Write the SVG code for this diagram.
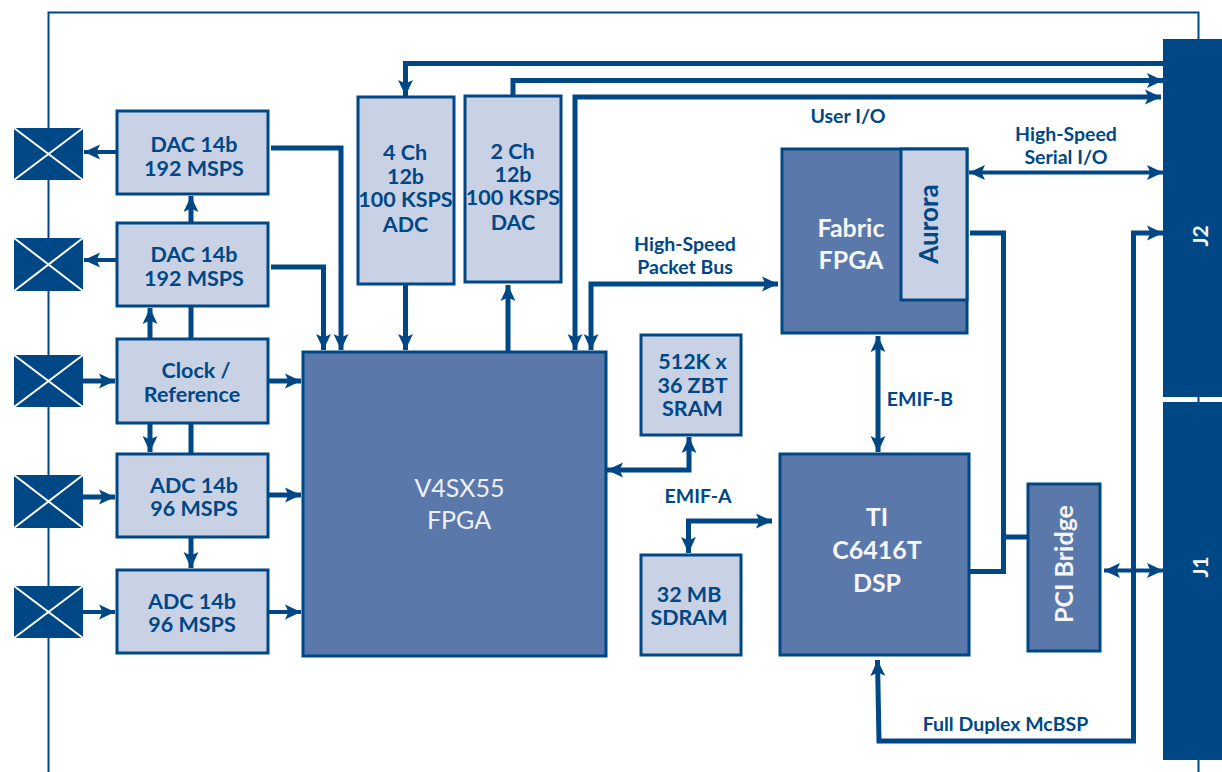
<svg xmlns="http://www.w3.org/2000/svg" width="1222" height="772" viewBox="0 0 1222 772">
<style>
text{font-family:Lato,"Open Sans","Liberation Sans",sans-serif;text-anchor:middle}
.lb{font-weight:700;font-size:21.5px;fill:#004785}
.sm{font-weight:700;font-size:19.5px;fill:#004785}
.wt{font-weight:700;font-size:25px;fill:#f4f6fa}
.wr{font-weight:400;font-size:25px;fill:#eef1f7}
.j{font-weight:700;font-size:21px;fill:#f4f6fa}
.light{fill:#c9d1e5;stroke:#004785;stroke-width:3}
.mid{fill:#5b78aa;stroke:#004785;stroke-width:3}
.cn{fill:#004785}
.x{stroke:#fff;stroke-width:2;fill:none}
.jb{fill:#004785}
.c{fill:none;stroke:#004785;stroke-width:5}
.c4{fill:none;stroke:#004785;stroke-width:4}
.f{fill:none;stroke:#004785;stroke-width:2}
</style>
<defs>
<marker id="a" markerUnits="userSpaceOnUse" markerWidth="16" markerHeight="16" refX="14" refY="7" orient="auto-start-reverse" viewBox="0 0 14 14"><path d="M14 7L0 0.5L3 7L0 13.5Z" fill="#004785"/></marker>
</defs>
<g id="frame"><path class="f" d="M48.5 772V12.5H1198.5V39M1198.5 397V402M1198.5 760V772"/></g>
<g id="connectors">
<path class="c4" marker-end="url(#a)" d="M116 152H84"/>
<path class="c4" marker-end="url(#a)" d="M116 260H84"/>
<path class="c" marker-end="url(#a)" d="M191 222V196"/>
<path class="c" marker-end="url(#a)" d="M150 338V308"/>
<path class="c" d="M191 338V307"/>
<path class="c" marker-end="url(#a)" d="M83 381H115"/>
<path class="c" marker-end="url(#a)" d="M269 381H301"/>
<path class="c" marker-end="url(#a)" d="M150 424V452"/>
<path class="c" d="M191 424V453"/>
<path class="c" marker-end="url(#a)" d="M83 497H115"/>
<path class="c" marker-end="url(#a)" d="M269 495H301"/>
<path class="c" marker-end="url(#a)" d="M191 538V568"/>
<path class="c4" marker-end="url(#a)" d="M83 612H115"/>
<path class="c4" marker-end="url(#a)" d="M269 612H301"/>
<path class="c" marker-end="url(#a)" d="M271 148H341V350"/>
<path class="c" marker-end="url(#a)" d="M271 267H323.5V350"/>
<path class="c" marker-end="url(#a)" d="M1163 63.5H405.5V96"/>
<path class="c" marker-end="url(#a)" d="M513 95V80.5H1163"/>
<path class="c" marker-start="url(#a)" marker-end="url(#a)" d="M1161 97H575V350"/>
<path class="c" marker-end="url(#a)" d="M405.5 285V350"/>
<path class="c" marker-end="url(#a)" d="M508 351V285"/>
<path class="c" marker-start="url(#a)" marker-end="url(#a)" d="M591 350V284H778"/>
<path class="c" marker-start="url(#a)" marker-end="url(#a)" d="M969 172.5H1163" style="stroke-width:4"/>
<path class="c" d="M970 233H1003.5V571.5H970M1003.5 537H1028"/>
<path class="c" marker-start="url(#a)" marker-end="url(#a)" d="M877.5 660L879 741H1133.5V233H1163"/>
<path class="c" marker-start="url(#a)" marker-end="url(#a)" d="M1104 570.5H1163" style="stroke-width:4"/>
<path class="c" marker-start="url(#a)" marker-end="url(#a)" d="M878 336V452"/>
<path class="c" marker-start="url(#a)" marker-end="url(#a)" d="M607 470H689V437"/>
<path class="c" marker-start="url(#a)" marker-end="url(#a)" d="M688.5 553V521H772"/>
</g>
<g id="x1"><rect class="cn" x="14" y="128" width="69" height="52"/><path class="x" d="M14 128L83 180M83 128L14 180"/></g>
<g id="x2"><rect class="cn" x="14" y="238" width="69" height="53"/><path class="x" d="M14 238L83 291M83 238L14 291"/></g>
<g id="x3"><rect class="cn" x="14" y="355" width="69" height="52"/><path class="x" d="M14 355L83 407M83 355L14 407"/></g>
<g id="x4"><rect class="cn" x="14" y="475" width="69" height="53"/><path class="x" d="M14 475L83 528M83 475L14 528"/></g>
<g id="x5"><rect class="cn" x="14" y="586" width="69" height="52"/><path class="x" d="M14 586L83 638M83 586L14 638"/></g>
<g id="dac1"><rect class="light" x="117" y="111" width="151" height="83"/><text class="lb" x="194" y="152">DAC 14b</text><text class="lb" x="194" y="176">192 MSPS</text></g>
<g id="dac2"><rect class="light" x="117" y="223" width="151" height="83"/><text class="lb" x="194" y="262">DAC 14b</text><text class="lb" x="194" y="286">192 MSPS</text></g>
<g id="clock"><rect class="light" x="117" y="339" width="151" height="84"/><text class="lb" x="196" y="378">Clock /</text><text class="lb" x="192" y="402">Reference</text></g>
<g id="adc1"><rect class="light" x="117" y="454" width="151" height="83"/><text class="lb" x="194" y="493">ADC 14b</text><text class="lb" x="194" y="516">96 MSPS</text></g>
<g id="adc2"><rect class="light" x="117" y="570" width="151" height="83"/><text class="lb" x="192" y="609">ADC 14b</text><text class="lb" x="192" y="632">96 MSPS</text></g>
<g id="fpga"><rect class="mid" x="303" y="352" width="303" height="304"/><text class="wr" x="459.500" y="497">V4SX55</text><text class="wr" x="459" y="529">FPGA</text></g>
<g id="adc4ch"><rect class="light" x="358" y="97" width="96" height="187"/><text class="lb" x="405" y="160">4 Ch</text><text class="lb" x="405.500" y="184">12b</text><text class="lb" x="405.500" y="207">100 KSPS</text><text class="lb" x="405.500" y="232">ADC</text></g>
<g id="dac2ch"><rect class="light" x="465" y="96" width="96" height="186"/><text class="lb" x="512.500" y="159">2 Ch</text><text class="lb" x="513" y="182">12b</text><text class="lb" x="513" y="205">100 KSPS</text><text class="lb" x="513" y="230">DAC</text></g>
<g id="sram"><rect class="light" x="641" y="335" width="100" height="100"/><text class="lb" x="692.500" y="369">512K x</text><text class="lb" x="692.500" y="393">36 ZBT</text><text class="lb" x="692.500" y="416">SRAM</text></g>
<g id="sdram"><rect class="light" x="641" y="555" width="100" height="100"/><text class="lb" x="689" y="602">32 MB</text><text class="lb" x="689" y="625">SDRAM</text></g>
<g id="fabric"><rect class="mid" x="782" y="149" width="185" height="184"/><text class="wt" x="851" y="237">Fabric</text><text class="wt" x="851" y="269">FPGA</text></g>
<g id="aurora"><rect class="light" x="901" y="149" width="66" height="151"/><text class="lb" style="font-size:26px" transform="translate(938 224) rotate(-90)">Aurora</text></g>
<g id="dsp"><rect class="mid" x="780" y="454" width="189" height="201"/><text class="wt" x="877" y="526">TI</text><text class="wt" x="877" y="559">C6416T</text><text class="wt" x="877" y="592">DSP</text></g>
<g id="pci"><rect class="mid" x="1028" y="484" width="72" height="167"/><text class="wt" transform="translate(1073 564) rotate(-90)">PCI Bridge</text></g>
<g id="j2"><rect class="jb" x="1163" y="39" width="59" height="358"/><text class="j" transform="translate(1208 236) rotate(-90)">J2</text></g>
<g id="j1"><rect class="jb" x="1163" y="402" width="59" height="358"/><text class="j" transform="translate(1208 567) rotate(-90)">J1</text></g>
<g id="labels">
<text class="sm" x="848" y="123">User I/O</text>
<text class="sm" x="1066" y="140.500">High-Speed</text><text class="sm" x="1066" y="163.500">Serial I/O</text>
<text class="sm" x="685" y="251">High-Speed</text><text class="sm" x="685" y="274">Packet Bus</text>
<text class="sm" x="920" y="405.500">EMIF-B</text>
<text class="sm" x="698" y="503">EMIF-A</text>
<text class="sm" x="1005.500" y="731">Full Duplex McBSP</text>
</g>
</svg>
